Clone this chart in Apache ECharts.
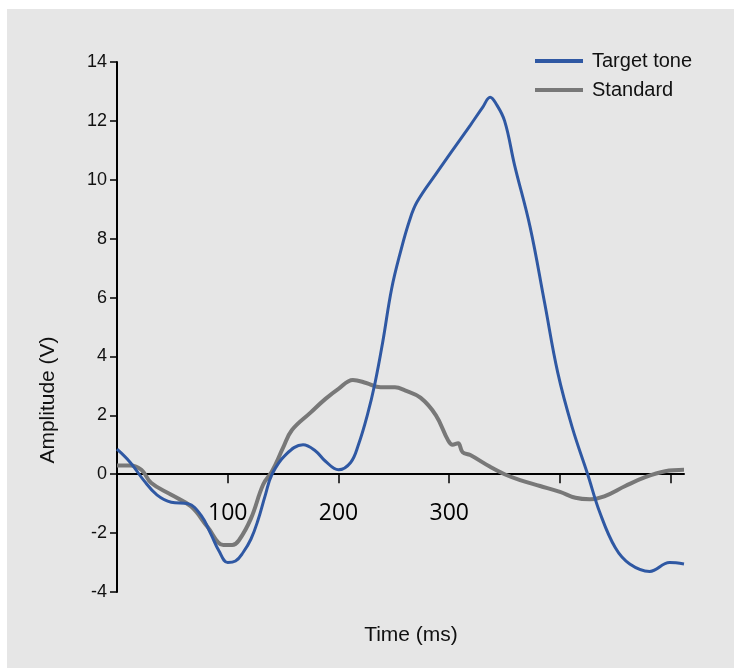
<!DOCTYPE html>
<html><head><meta charset="utf-8">
<script src="https://cdn.jsdelivr.net/npm/echarts@6/dist/echarts.min.js"></script>
<style>html,body{margin:0;padding:0;background:#fff}#c{width:734px;height:668px}</style>
</head><body><div id="c"></div>
<script>
const xTickLabels = [100, 200, 300];
const targetTime = [0,12,24,36,49,64,76,85,92,100,107,114,121,127,134,140,152,168,179,188,200,211,218,226,233,240,248,256,264,271,289,301,319,330,337,342,350,359,373,386,398,411,425,436,450,463,481,499,512];
const targetAmp = [0.85,0.4,-0.2,-0.7,-0.95,-1.0,-1.4,-2.05,-2.6,-3.0,-2.95,-2.65,-2.2,-1.6,-0.7,0,0.65,1.0,0.8,0.45,0.15,0.4,1.0,2.0,3.1,4.5,6.3,7.55,8.6,9.25,10.25,10.9,11.85,12.45,12.8,12.6,12.0,10.5,8.4,5.85,3.45,1.6,0,-1.3,-2.5,-3.05,-3.3,-3.0,-3.05];
const standardTime = [0,12,22,31,49,67,82,96,104,110,121,132,140,150,158,175,188,200,213,225,238,251,260,274,288,299,303,308,312,319,337,350,364,382,400,414,427,440,459,477,495,512];
const standardAmp = [0.3,0.3,0.15,-0.3,-0.7,-1.1,-1.8,-2.4,-2.4,-2.25,-1.5,-0.35,0.1,0.9,1.5,2.1,2.55,2.9,3.2,3.1,2.95,2.95,2.85,2.6,2.0,1.15,1.0,1.05,0.75,0.65,0.25,0,-0.2,-0.4,-0.6,-0.8,-0.85,-0.75,-0.4,-0.1,0.1,0.15];

const pair = (xs, ys) => xs.map((x, i) => [x, ys[i]]);
const font = "'Liberation Sans',sans-serif";
const chart = echarts.init(document.getElementById('c'));
chart.setOption({
  backgroundColor: '#fff',
  animation: false,
  graphic: [
    {type: 'rect', z: -10, shape: {x: 7, y: 9, width: 727, height: 659}, style: {fill: '#e6e6e6'}},
    {type: 'text', x: 48, y: 400, rotation: Math.PI / 2, style: {text: 'Amplitude (V)', font: "21px " + font, fill: '#111', align: 'center', verticalAlign: 'middle'}},
    {type: 'text', x: 411, y: 635, style: {text: 'Time (ms)', font: "21px " + font, fill: '#111', align: 'center', verticalAlign: 'middle'}}
  ],
  grid: {left: 117, right: 50, top: 62, bottom: 76, containLabel: false},
  legend: {
    orient: 'vertical', left: 530, top: 46, itemWidth: 48, itemHeight: 4, itemGap: 9,
    icon: 'rect',
    textStyle: {fontFamily: font, fontSize: 20, color: '#111', padding: [0, 0, 0, 4]},
    data: ['Target tone', 'Standard']
  },
  xAxis: {
    type: 'value', min: 0, max: 512, interval: 100,
    axisLine: {onZero: true, lineStyle: {color: '#000', width: 2}},
    axisTick: {show: true, length: 9, lineStyle: {color: '#000', width: 1.5}},
    axisLabel: {
      margin: -90, fontSize: 23, color: '#000', fontFamily: "'Open Sans','Liberation Sans',sans-serif",
      showMinLabel: false, showMaxLabel: false,
      formatter: v => xTickLabels.includes(v) ? String(v) : ''
    },
    splitLine: {show: false}
  },
  yAxis: {
    type: 'value', min: -4, max: 14, interval: 2,
    axisLine: {show: true, lineStyle: {color: '#000', width: 2}},
    axisTick: {show: true, length: 7, lineStyle: {color: '#000', width: 1.5}},
    axisLabel: {margin: 10, fontSize: 18, color: '#111', fontFamily: font},
    splitLine: {show: false}
  },
  series: [
    {name: 'Target tone', type: 'line', data: pair(targetTime, targetAmp), smooth: 0.4, symbol: 'none',
     lineStyle: {color: '#2f58a3', width: 3}, itemStyle: {color: '#2f58a3'}, z: 3},
    {name: 'Standard', type: 'line', data: pair(standardTime, standardAmp), smooth: 0.4, symbol: 'none',
     lineStyle: {color: '#787878', width: 4}, itemStyle: {color: '#787878'}, z: 2}
  ]
});
</script></body></html>
